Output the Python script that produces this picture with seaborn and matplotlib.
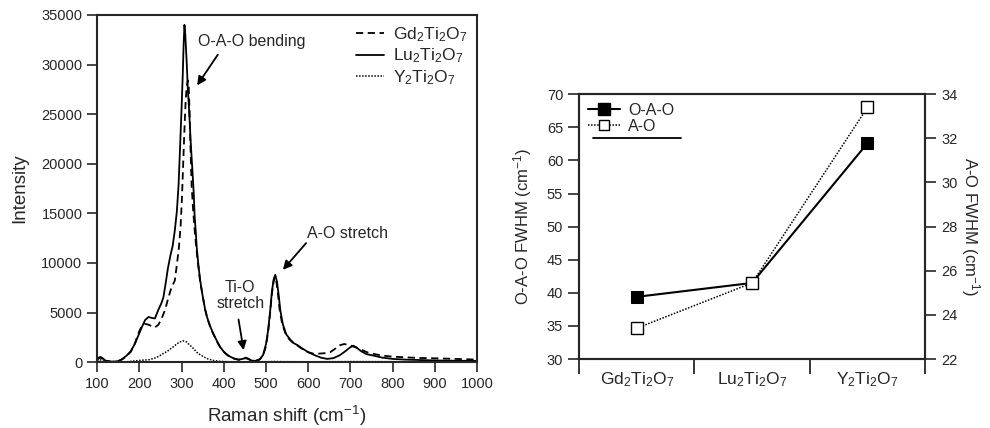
import numpy as np
import matplotlib
matplotlib.use("Agg")
import matplotlib.pyplot as plt
import seaborn as sns
from matplotlib.lines import Line2D

# Raman spectra
gd_shift = [100, 104, 108, 113, 120, 135, 150, 160, 170, 180, 190, 196, 202, 207, 212, 220, 228, 237, 245,
            252, 261, 269, 276, 284, 289, 294, 298, 301, 304, 307, 310, 313, 315, 317, 319, 321, 324, 328,
            333, 338, 344, 350, 356, 362, 370, 378, 386, 394, 402, 410, 418, 428, 438, 446, 452, 458, 466,
            475, 485, 493, 500, 505, 510, 514, 518, 521, 524, 528, 532, 538, 546, 555, 565, 575, 585, 600,
            612, 625, 640, 652, 664, 675, 685, 695, 705, 715, 728, 742, 758, 775, 800, 830, 860, 900, 950, 1000]
gd_int = [200, 400, 450, 350, 150, 30, 80, 280, 600, 1050, 1900, 2700, 3300, 3700, 3850, 3800, 3650, 3500, 3750,
          4300, 5250, 6500, 7500, 8200, 9800, 11600, 13800, 16500, 20000, 23500, 26500, 28000, 28400, 27800,
          25500, 22000, 17800, 15000, 12400, 10300, 8200, 6700, 5300, 4300, 3300, 2600, 1900, 1350, 950, 650,
          450, 300, 220, 300, 400, 300, 150, 110, 250, 650, 1600, 3000, 5000, 6900, 8100, 8600, 8300, 7000,
          5400, 3900, 2900, 2300, 1900, 1650, 1350, 1000, 850, 850, 900, 1000, 1350, 1700, 1820, 1750, 1600,
          1450, 1200, 950, 800, 650, 550, 480, 420, 380, 320, 250]

lu_shift = [100, 104, 108, 113, 120, 135, 150, 160, 170, 180, 190, 200, 207, 214, 222, 230, 237, 245, 252, 257,
            262, 268, 274, 279, 284, 289, 293, 296, 300, 303, 305, 307, 309, 312, 315, 318, 322, 326, 329, 331,
            334, 336, 340, 344, 348, 352, 356, 360, 368, 375, 383, 391, 400, 408, 415, 425, 435, 445, 452, 458,
            466, 475, 485, 493, 500, 505, 510, 514, 518, 522, 526, 530, 534, 540, 548, 557, 566, 575, 585, 600,
            615, 630, 645, 660, 675, 688, 698, 707, 715, 725, 738, 755, 775, 800, 830, 870, 920, 960, 1000]
lu_int = [200, 450, 520, 400, 150, 30, 100, 320, 650, 1100, 1880, 2900, 3600, 4250, 4550, 4450, 4400, 5250, 5900,
          6500, 7800, 9500, 10800, 11700, 13200, 15200, 17800, 21000, 25400, 29000, 32000, 34000, 33000, 30500,
          27500, 25400, 22000, 19200, 17000, 14800, 13000, 11600, 9800, 8300, 7200, 6200, 5300, 4600, 3600,
          2900, 2200, 1550, 1050, 750, 550, 350, 250, 320, 450, 350, 150, 120, 280, 700, 1800, 3200, 5200,
          7100, 8300, 8800, 8100, 6800, 5200, 3800, 2800, 2300, 1900, 1700, 1400, 1000, 700, 450, 320, 400,
          700, 1100, 1450, 1650, 1450, 1100, 800, 650, 450, 320, 250, 200, 150, 130, 120]

y_shift = [100, 105, 110, 118, 130, 150, 170, 190, 210, 225, 240, 253, 257, 265, 273, 281, 288, 295, 303, 311,
           320, 328, 336, 344, 352, 362, 375, 390, 410, 450, 500, 520, 540, 600, 700, 800, 900, 1000]
y_int = [150, 250, 200, 60, 0, 0, 30, 120, 200, 250, 450, 750, 870, 1050, 1300, 1550, 1800, 2000, 2150, 2050,
         1700, 1380, 1000, 750, 540, 330, 170, 80, 40, 30, 40, 60, 40, 30, 50, 40, 30, 30]

# FWHM vs compound
compounds = ["Gd$_2$Ti$_2$O$_7$", "Lu$_2$Ti$_2$O$_7$", "Y$_2$Ti$_2$O$_7$"]
oao_fwhm = [39.4, 41.5, 62.6]
ao_fwhm = [23.4, 25.45, 33.4]

sns.set_style("ticks")
plt.rcParams['font.family'] = ['Liberation Sans', 'DejaVu Sans']
plt.rcParams['mathtext.fontset'] = 'custom'
plt.rcParams['mathtext.rm'] = 'Liberation Sans'
plt.rcParams['mathtext.it'] = 'Liberation Sans'
plt.rcParams['mathtext.bf'] = 'Liberation Sans:bold'

fig = plt.figure(figsize=(9.9, 4.28), dpi=100)
ax = fig.add_axes([0.098, 0.154, 0.384, 0.811])
axr = fig.add_axes([0.585, 0.161, 0.3495, 0.619])

# ---- left: spectra
sns.lineplot(x=gd_shift, y=gd_int, ax=ax, color='black', lw=1.3, linestyle=(0, (4, 2.5)),
             estimator=None, sort=False, label="Gd$_2$Ti$_2$O$_7$")
sns.lineplot(x=lu_shift, y=lu_int, ax=ax, color='black', lw=1.3, estimator=None, sort=False,
             label="Lu$_2$Ti$_2$O$_7$")
sns.lineplot(x=y_shift, y=y_int, ax=ax, color='black', lw=1.1, linestyle=(0, (1, 1)),
             estimator=None, sort=False, label="Y$_2$Ti$_2$O$_7$")

ax.set_xlim(100, 1000)
ax.set_ylim(0, 35000)
ax.set_xticks(range(100, 1001, 100))
ax.set_yticks(range(0, 35001, 5000))
ax.tick_params(direction='out', length=7, width=1.2, labelsize=10.5)
for s in ax.spines.values():
    s.set_linewidth(1.5)
ax.set_xlabel("Raman shift (cm$^{-1}$)", fontsize=13.5)
ax.set_ylabel("Intensity", fontsize=13.5)
ax.xaxis.set_label_coords(0.5, -0.12)
ax.yaxis.set_label_coords(-0.18, 0.5)
ax.legend(loc='upper right', frameon=False, fontsize=12.5, handlelength=1.6, handletextpad=0.5,
          labelspacing=0.15, borderaxespad=0.2)

arrow = dict(arrowstyle='-|>', color='black', lw=1.3, mutation_scale=13, shrinkA=0, shrinkB=0)
ax.annotate('', xy=(337, 27900), xytext=(386, 31000), arrowprops=arrow)
ax.text(467, 32300, "O-A-O bending", ha='center', va='center', fontsize=11.5)
ax.annotate('', xy=(540, 9300), xytext=(595, 12000), arrowprops=arrow)
ax.text(694, 13000, "A-O stretch", ha='center', va='center', fontsize=11.5)
ax.annotate('', xy=(447, 1200), xytext=(435, 4300), arrowprops=arrow)
ax.text(439, 6700, "Ti-O\nstretch", ha='center', va='center', fontsize=11.5, linespacing=1.1)

# ---- right: FWHM
pos = np.arange(len(compounds))
axr2 = axr.twinx()
sns.lineplot(x=pos, y=oao_fwhm, ax=axr, color='black', lw=1.5, marker='s', markersize=8,
             markerfacecolor='black', markeredgecolor='black', estimator=None, legend=False)
sns.lineplot(x=pos, y=ao_fwhm, ax=axr2, color='black', lw=1.1, linestyle=(0, (1, 1)), marker='s',
             markersize=8, markerfacecolor='white', markeredgecolor='black', markeredgewidth=1,
             estimator=None, legend=False)

axr.set_xlim(-0.5, 2.5)
axr.set_ylim(30, 70)
axr2.set_ylim(22, 34)
axr.set_yticks(range(30, 71, 5))
axr2.set_yticks(range(22, 35, 2))
axr.set_xticks(pos)
axr.set_xticklabels(compounds, fontsize=12.5)
axr.set_xticks(np.arange(-0.5, 2.6, 1.0), minor=True)
axr.tick_params(axis='x', which='major', length=0, pad=8)
axr.tick_params(axis='x', which='minor', direction='out', length=11, width=1.3)
axr.tick_params(axis='y', direction='out', length=8, width=1.2, labelsize=10.5)
axr2.tick_params(axis='y', direction='out', length=8, width=1.2, labelsize=10.5)
for a in (axr, axr2):
    for s in a.spines.values():
        s.set_linewidth(1.5)
axr.set_ylabel("O-A-O FWHM (cm$^{-1}$)", fontsize=12)
axr2.set_ylabel("A-O FWHM (cm$^{-1}$)", fontsize=12, rotation=270, va='center')
axr.yaxis.set_label_coords(-0.13, 0.5)
axr2.yaxis.set_label_coords(1.132, 0.5)

handles = [Line2D([], [], color='black', lw=1.5, marker='s', markersize=8),
           Line2D([], [], color='black', lw=1.1, linestyle=(0, (1, 1)), marker='s', markersize=7,
                  markerfacecolor='white')]
axr.legend(handles, ["O-A-O", "A-O"], loc='upper left', frameon=False, fontsize=11.5,
           handlelength=2.0, handletextpad=0.5, labelspacing=0.05, borderaxespad=0.15)
axr.add_line(Line2D([0.04, 0.295], [0.834, 0.834], transform=axr.transAxes, color='black', lw=1.3))

fig.savefig("out.png", dpi=100)
